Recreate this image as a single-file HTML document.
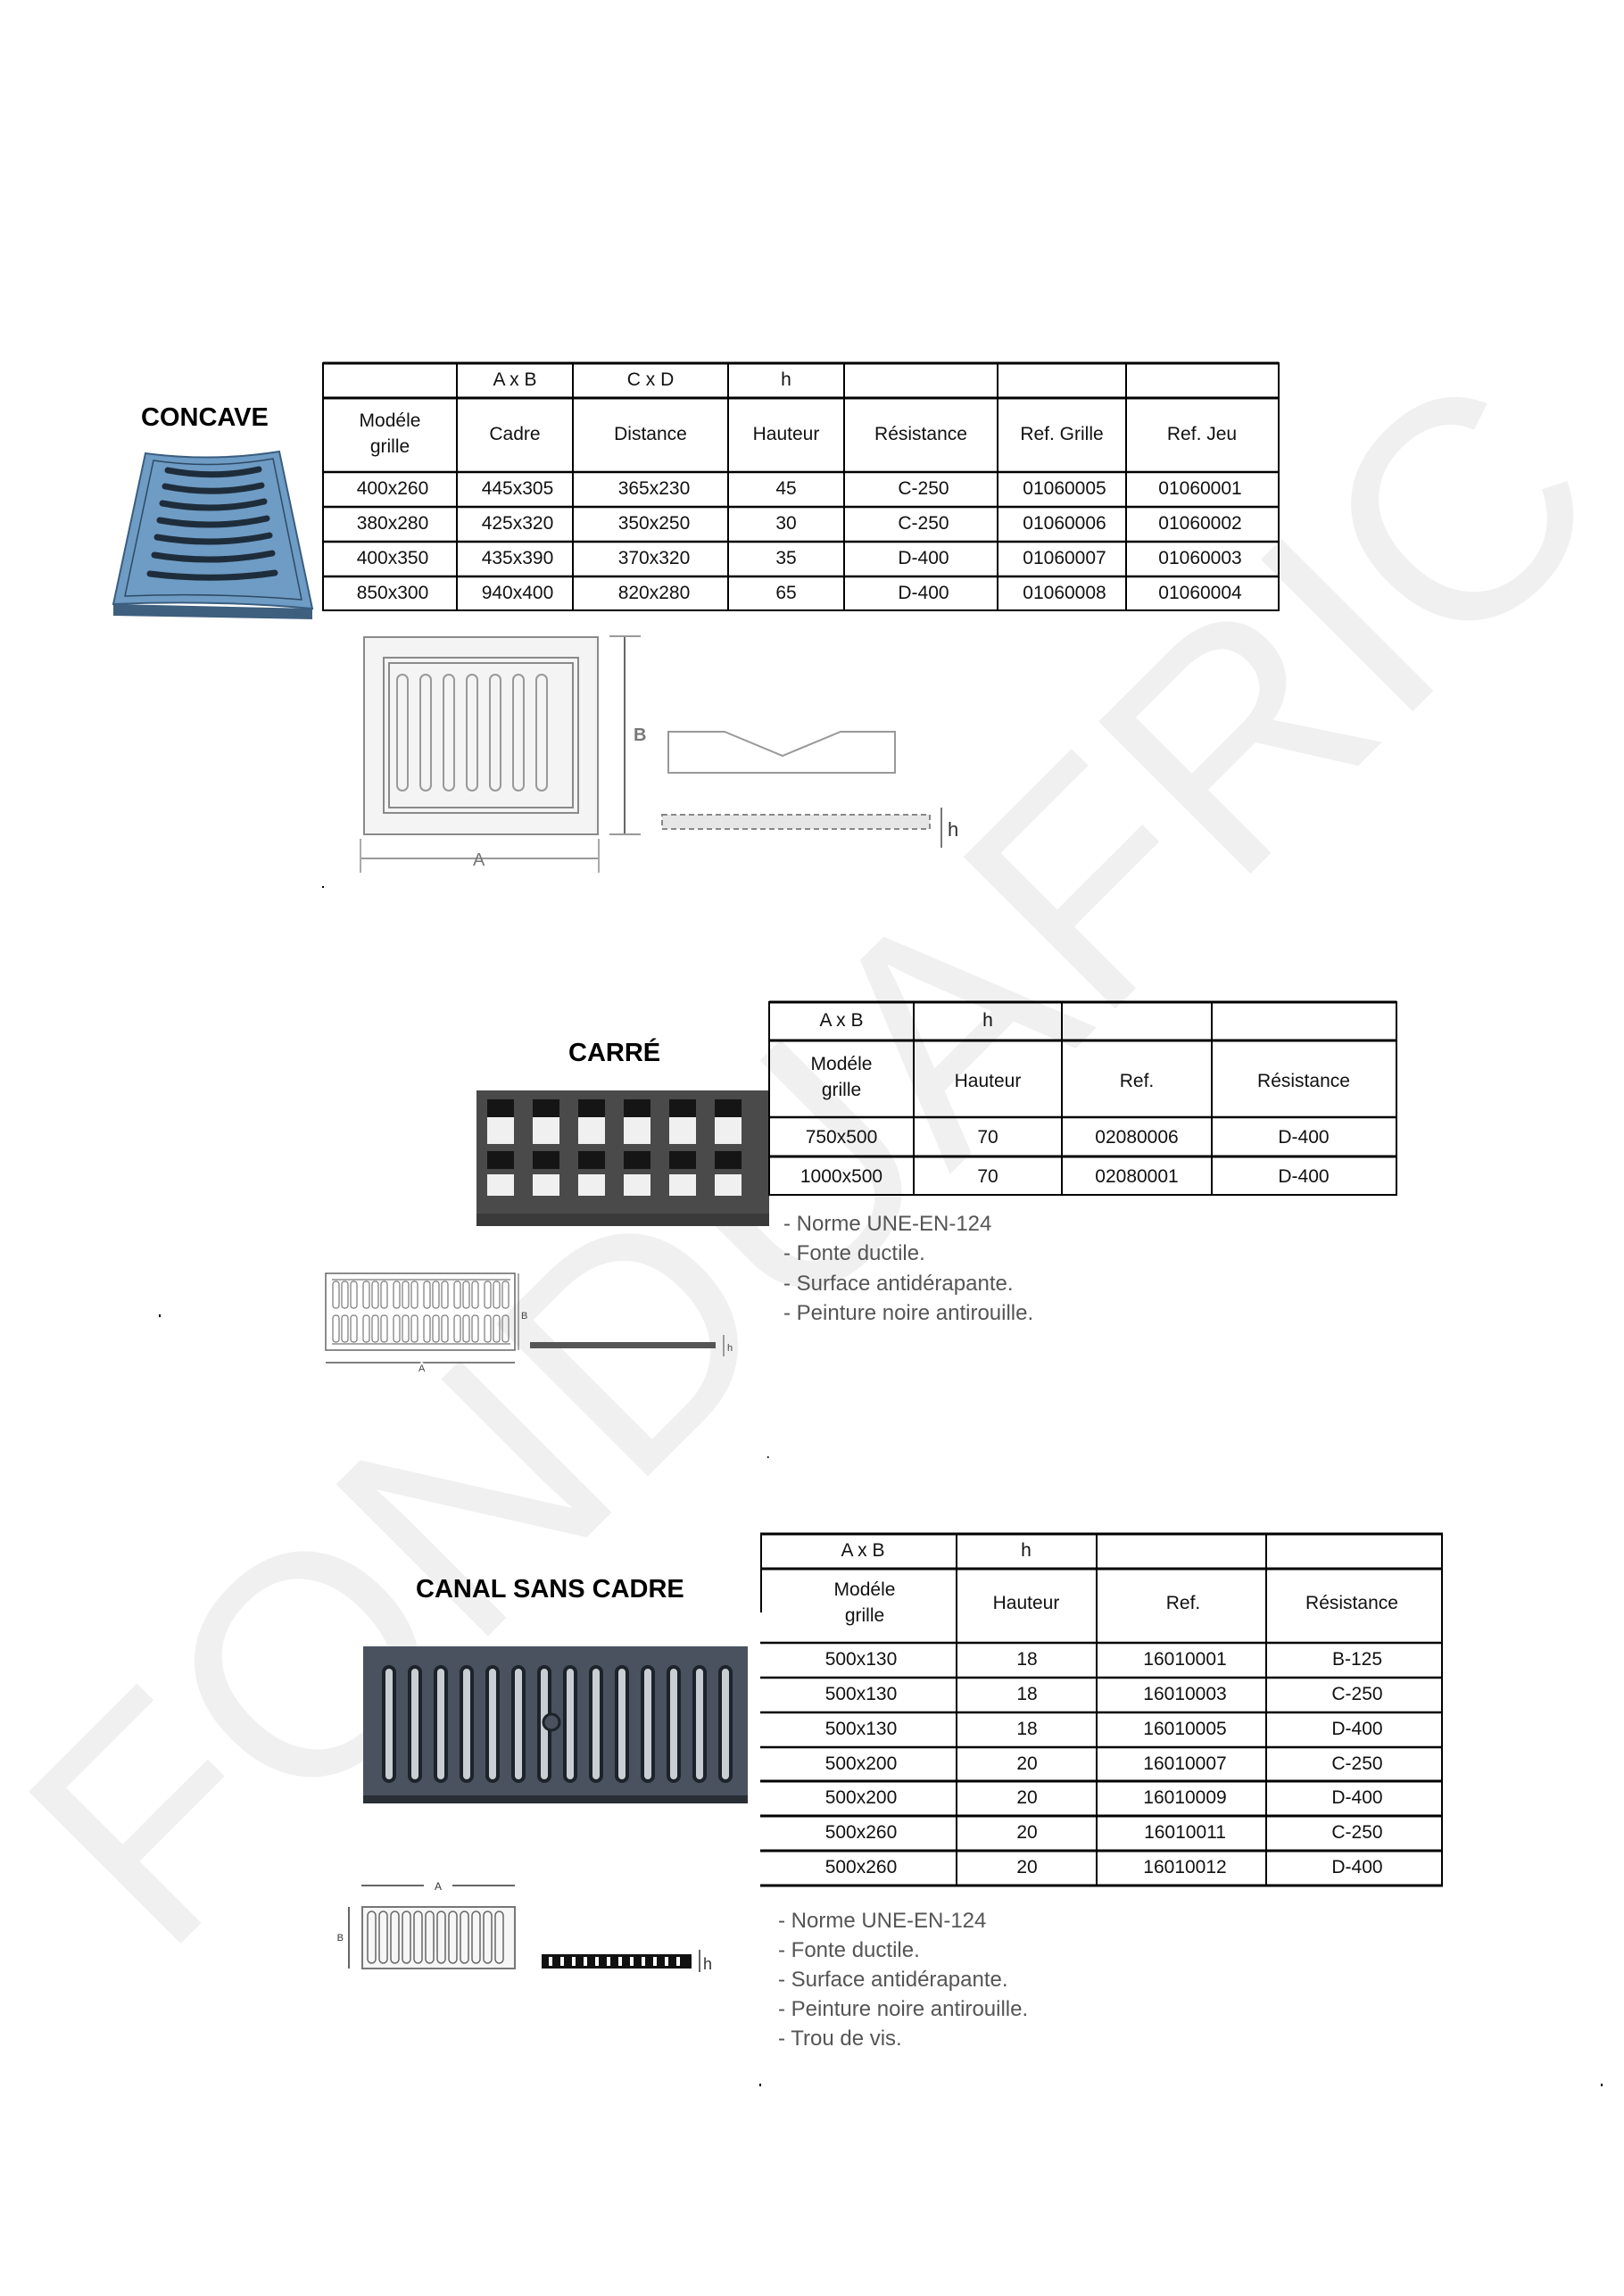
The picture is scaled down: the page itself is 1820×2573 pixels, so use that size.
<!DOCTYPE html>
<html><head><meta charset="utf-8"><style>
html,body{margin:0;padding:0;background:#fff;}
svg{display:block;}
text{font-family:"Liberation Sans",Arial,sans-serif;}
</style></head><body>
<svg width="1820" height="2573" viewBox="0 0 1820 2573" xmlns="http://www.w3.org/2000/svg">
<rect width="1820" height="2573" fill="#fff"/>
<!-- watermark -->
<text x="910" y="1300" font-size="350" fill="#f0f0f0" text-anchor="middle" dominant-baseline="central" textLength="2300" lengthAdjust="spacingAndGlyphs" transform="rotate(-45 910 1300)">FONDUAFRIC</text>

<!-- ===== CONCAVE ===== -->
<text x="158" y="477" font-size="29" font-weight="bold" fill="#000">CONCAVE</text>
<g>
<polygon points="127,677 350,682 350,694 127,690" fill="#3e5f7e"/>
<path d="M163,508 Q238,518 313,506 L350,682 Q238,672 127,677 Z" fill="#6f9cc4" stroke="#3a5d80" stroke-width="2"/>
<path d="M172,516 Q238,526 306,514 L338,672 Q238,664 140,668 Z" fill="none" stroke="#2d4a66" stroke-width="1.5"/>
<g stroke="#1e2d3c" stroke-width="7" stroke-linecap="round" fill="none">
<path d="M188,527 Q240,537 290,526"/>
<path d="M185,545 Q240,556 293,544"/>
<path d="M182,564 Q240,575 296,562"/>
<path d="M179,583 Q240,594 299,581"/>
<path d="M176,602 Q240,613 302,600"/>
<path d="M173,622 Q240,633 305,620"/>
<path d="M168,643 Q240,652 308,642"/>
</g>
</g>
<!-- table 1 -->
<g stroke="#000" fill="none">
<rect x="362" y="407" width="1071" height="277" stroke-width="2"/>
<line x1="362" y1="407" x2="1433" y2="407" stroke-width="3"/>
<line x1="362" y1="446" x2="1433" y2="446" stroke-width="3"/>
<line x1="362" y1="529" x2="1433" y2="529" stroke-width="2.5"/>
<line x1="362" y1="568" x2="1433" y2="568" stroke-width="2.5"/>
<line x1="362" y1="607" x2="1433" y2="607" stroke-width="2.5"/>
<line x1="362" y1="646" x2="1433" y2="646" stroke-width="2.5"/>
<line x1="512" y1="407" x2="512" y2="684" stroke-width="2"/>
<line x1="642" y1="407" x2="642" y2="684" stroke-width="2"/>
<line x1="816" y1="407" x2="816" y2="684" stroke-width="2"/>
<line x1="946" y1="407" x2="946" y2="684" stroke-width="2"/>
<line x1="1118" y1="407" x2="1118" y2="684" stroke-width="2"/>
<line x1="1262" y1="407" x2="1262" y2="684" stroke-width="2"/>
</g>
<g font-size="21" fill="#111" text-anchor="middle">
<text x="577" y="432">A x B</text><text x="729" y="432">C x D</text><text x="881" y="432">h</text>
<text x="437" y="478">Modéle</text><text x="437" y="507">grille</text>
<text x="577" y="493">Cadre</text><text x="729" y="493">Distance</text><text x="881" y="493">Hauteur</text>
<text x="1032" y="493">Résistance</text><text x="1190" y="493">Ref. Grille</text><text x="1347" y="493">Ref. Jeu</text>
<text x="440" y="554">400x260</text><text x="580" y="554">445x305</text><text x="733" y="554">365x230</text><text x="881" y="554">45</text><text x="1035" y="554">C-250</text><text x="1193" y="554">01060005</text><text x="1345" y="554">01060001</text>
<text x="440" y="593">380x280</text><text x="580" y="593">425x320</text><text x="733" y="593">350x250</text><text x="881" y="593">30</text><text x="1035" y="593">C-250</text><text x="1193" y="593">01060006</text><text x="1345" y="593">01060002</text>
<text x="440" y="632">400x350</text><text x="580" y="632">435x390</text><text x="733" y="632">370x320</text><text x="881" y="632">35</text><text x="1035" y="632">D-400</text><text x="1193" y="632">01060007</text><text x="1345" y="632">01060003</text>
<text x="440" y="671">850x300</text><text x="580" y="671">940x400</text><text x="733" y="671">820x280</text><text x="881" y="671">65</text><text x="1035" y="671">D-400</text><text x="1193" y="671">01060008</text><text x="1345" y="671">01060004</text>
</g>
<!-- drawing 1 -->
<g stroke="#8a8a8a" fill="none" stroke-width="2">
<rect x="408" y="714" width="262" height="221" fill="#f4f4f4"/>
<rect x="430" y="737" width="218" height="174"/>
<rect x="436" y="743" width="206" height="162"/>
<g stroke="#999" stroke-width="2">
<rect x="445" y="756" width="12" height="130" rx="6"/><rect x="471" y="756" width="12" height="130" rx="6"/>
<rect x="497" y="756" width="12" height="130" rx="6"/><rect x="523" y="756" width="12" height="130" rx="6"/>
<rect x="549" y="756" width="12" height="130" rx="6"/><rect x="575" y="756" width="12" height="130" rx="6"/>
<rect x="601" y="756" width="12" height="130" rx="6"/>
</g>
<line x1="700" y1="713" x2="700" y2="935" stroke="#666"/>
<line x1="683" y1="713" x2="718" y2="713" stroke="#999"/>
<line x1="683" y1="935" x2="718" y2="935" stroke="#999"/>
<line x1="404" y1="962" x2="671" y2="962" stroke="#999"/>
<line x1="404" y1="940" x2="404" y2="978" stroke="#aaa"/><line x1="671" y1="940" x2="671" y2="978" stroke="#aaa"/>
<path d="M749,820 L812,820 L877,847 L942,820 L1003,820 L1003,866 L749,866 Z" stroke="#999"/>
<rect x="742" y="913" width="300" height="16" fill="#e6e6e6" stroke="#888" stroke-dasharray="6,4"/>
<line x1="1055" y1="905" x2="1055" y2="950" stroke="#777"/>
</g>
<text x="710" y="830" font-size="20" fill="#777" font-weight="bold">B</text>
<text x="530" y="970" font-size="20" fill="#777">A</text>
<text x="1062" y="937" font-size="22" fill="#333">h</text>
<rect x="361" y="993" width="2" height="2" fill="#000"/>

<!-- ===== CARRÉ ===== -->
<text x="637" y="1189" font-size="29" font-weight="bold" fill="#000">CARRÉ</text>
<g>
<rect x="534" y="1222" width="328" height="152" fill="#4a4a4a"/>
<rect x="534" y="1360" width="328" height="14" fill="#3a3a3a"/>
<g fill="#151515">
<rect x="546" y="1232" width="30" height="20"/><rect x="597" y="1232" width="30" height="20"/><rect x="648" y="1232" width="30" height="20"/><rect x="699" y="1232" width="30" height="20"/><rect x="750" y="1232" width="30" height="20"/><rect x="801" y="1232" width="30" height="20"/>
<rect x="546" y="1290" width="30" height="20"/><rect x="597" y="1290" width="30" height="20"/><rect x="648" y="1290" width="30" height="20"/><rect x="699" y="1290" width="30" height="20"/><rect x="750" y="1290" width="30" height="20"/><rect x="801" y="1290" width="30" height="20"/>
</g>
<g fill="#f0f0f0">
<rect x="546" y="1252" width="30" height="8"/><rect x="597" y="1252" width="30" height="8"/><rect x="648" y="1252" width="30" height="8"/><rect x="699" y="1252" width="30" height="8"/><rect x="750" y="1252" width="30" height="8"/><rect x="801" y="1252" width="30" height="8"/>
<rect x="546" y="1260" width="30" height="22"/><rect x="597" y="1260" width="30" height="22"/><rect x="648" y="1260" width="30" height="22"/><rect x="699" y="1260" width="30" height="22"/><rect x="750" y="1260" width="30" height="22"/><rect x="801" y="1260" width="30" height="22"/>
<rect x="546" y="1316" width="30" height="24"/><rect x="597" y="1316" width="30" height="24"/><rect x="648" y="1316" width="30" height="24"/><rect x="699" y="1316" width="30" height="24"/><rect x="750" y="1316" width="30" height="24"/><rect x="801" y="1316" width="30" height="24"/>
</g>
</g>
<g stroke="#000" fill="none">
<rect x="862" y="1123" width="703" height="216" stroke-width="2"/>
<line x1="862" y1="1123" x2="1565" y2="1123" stroke-width="3"/>
<line x1="862" y1="1166" x2="1565" y2="1166" stroke-width="3"/>
<line x1="862" y1="1252" x2="1565" y2="1252" stroke-width="2.5"/>
<line x1="862" y1="1296" x2="1565" y2="1296" stroke-width="3"/>
<line x1="1024" y1="1123" x2="1024" y2="1339" stroke-width="2"/>
<line x1="1190" y1="1123" x2="1190" y2="1339" stroke-width="2"/>
<line x1="1358" y1="1123" x2="1358" y2="1339" stroke-width="2"/>
</g>
<g font-size="21" fill="#111" text-anchor="middle">
<text x="943" y="1150">A x B</text><text x="1107" y="1150">h</text>
<text x="943" y="1199">Modéle</text><text x="943" y="1228">grille</text>
<text x="1107" y="1218">Hauteur</text><text x="1274" y="1218">Ref.</text><text x="1461" y="1218">Résistance</text>
<text x="943" y="1281">750x500</text><text x="1107" y="1281">70</text><text x="1274" y="1281">02080006</text><text x="1461" y="1281">D-400</text>
<text x="943" y="1325">1000x500</text><text x="1107" y="1325">70</text><text x="1274" y="1325">02080001</text><text x="1461" y="1325">D-400</text>
</g>
<g font-size="24" fill="#555">
<text x="878" y="1389" dy="-10">- Norme UNE-EN-124</text>
<text x="878" y="1412">- Fonte ductile.</text>
<text x="878" y="1446">- Surface antidérapante.</text>
<text x="878" y="1479">- Peinture noire antirouille.</text>
</g>
<!-- drawing 2 -->
<g stroke="#666" fill="none" stroke-width="1.5">
<rect x="365" y="1427" width="212" height="86"/>
<g stroke="#777" stroke-width="1.3">
<path d="M372,1434 h200 M372,1506 h200"/>
</g>
</g>
<g fill="none" stroke="#777" stroke-width="1.2">
<g id="slots">
<rect x="373" y="1436" width="7" height="30" rx="3"/><rect x="383" y="1436" width="7" height="30" rx="3"/><rect x="393" y="1436" width="7" height="30" rx="3"/>
<rect x="407" y="1436" width="7" height="30" rx="3"/><rect x="417" y="1436" width="7" height="30" rx="3"/><rect x="427" y="1436" width="7" height="30" rx="3"/>
<rect x="441" y="1436" width="7" height="30" rx="3"/><rect x="451" y="1436" width="7" height="30" rx="3"/><rect x="461" y="1436" width="7" height="30" rx="3"/>
<rect x="475" y="1436" width="7" height="30" rx="3"/><rect x="485" y="1436" width="7" height="30" rx="3"/><rect x="495" y="1436" width="7" height="30" rx="3"/>
<rect x="509" y="1436" width="7" height="30" rx="3"/><rect x="519" y="1436" width="7" height="30" rx="3"/><rect x="529" y="1436" width="7" height="30" rx="3"/>
<rect x="543" y="1436" width="7" height="30" rx="3"/><rect x="553" y="1436" width="7" height="30" rx="3"/><rect x="563" y="1436" width="7" height="30" rx="3"/>
</g>
<use href="#slots" y="38"/>
</g>
<line x1="581" y1="1427" x2="581" y2="1513" stroke="#555"/>
<text x="584" y="1478" font-size="11" fill="#444">B</text>
<line x1="365" y1="1527" x2="577" y2="1527" stroke="#555" stroke-width="1.5"/>
<text x="469" y="1537" font-size="11" fill="#444" stroke="#fff" stroke-width="4" paint-order="stroke">A</text>
<rect x="594" y="1504" width="208" height="7" fill="#555"/>
<line x1="811" y1="1496" x2="811" y2="1520" stroke="#444"/>
<text x="815" y="1514" font-size="11" fill="#444">h</text>
<rect x="178" y="1473" width="2" height="3" fill="#000"/>
<rect x="860" y="1632" width="1.5" height="2" fill="#000"/>

<!-- ===== CANAL SANS CADRE ===== -->
<text x="466" y="1790" font-size="29" font-weight="bold" fill="#000">CANAL SANS CADRE</text>
<g>
<rect x="407" y="1845" width="431" height="176" fill="#49525e"/>
<rect x="407" y="2012" width="431" height="9" fill="#2a2f36"/>
<g fill="#c9ced4" stroke="#1d232a" stroke-width="4">
<rect x="430" y="1868" width="12" height="128" rx="6"/><rect x="459" y="1868" width="12" height="128" rx="6"/><rect x="488" y="1868" width="12" height="128" rx="6"/>
<rect x="517" y="1868" width="12" height="128" rx="6"/><rect x="546" y="1868" width="12" height="128" rx="6"/><rect x="575" y="1868" width="12" height="128" rx="6"/>
<rect x="604" y="1868" width="12" height="128" rx="6"/><rect x="633" y="1868" width="12" height="128" rx="6"/><rect x="662" y="1868" width="12" height="128" rx="6"/>
<rect x="691" y="1868" width="12" height="128" rx="6"/><rect x="720" y="1868" width="12" height="128" rx="6"/><rect x="749" y="1868" width="12" height="128" rx="6"/>
<rect x="778" y="1868" width="12" height="128" rx="6"/><rect x="807" y="1868" width="12" height="128" rx="6"/>
</g>
<circle cx="618" cy="1930" r="9" fill="#49525e" stroke="#1d232a" stroke-width="3"/>
</g>
<g stroke="#000" fill="none">
<line x1="852" y1="1719" x2="1617" y2="1719" stroke-width="3"/>
<line x1="852" y1="1758" x2="1617" y2="1758" stroke-width="3"/>
<line x1="852" y1="1841" x2="1617" y2="1841" stroke-width="2.5"/>
<line x1="852" y1="1880" x2="1617" y2="1880" stroke-width="2.5"/>
<line x1="852" y1="1919" x2="1617" y2="1919" stroke-width="2.5"/>
<line x1="852" y1="1958" x2="1617" y2="1958" stroke-width="2.5"/>
<line x1="852" y1="1996" x2="1617" y2="1996" stroke-width="3"/>
<line x1="852" y1="2035" x2="1617" y2="2035" stroke-width="3"/>
<line x1="852" y1="2074" x2="1617" y2="2074" stroke-width="3"/>
<line x1="852" y1="2113" x2="1617" y2="2113" stroke-width="3"/>
<line x1="853" y1="1719" x2="853" y2="1807" stroke-width="2"/>
<line x1="1072" y1="1719" x2="1072" y2="2113" stroke-width="2"/>
<line x1="1229" y1="1719" x2="1229" y2="2113" stroke-width="2"/>
<line x1="1419" y1="1719" x2="1419" y2="2113" stroke-width="2"/>
<line x1="1616" y1="1719" x2="1616" y2="2113" stroke-width="2"/>
</g>
<g font-size="21" fill="#111" text-anchor="middle">
<text x="967" y="1744">A x B</text><text x="1150" y="1744">h</text>
<text x="969" y="1788">Modéle</text><text x="969" y="1817">grille</text>
<text x="1150" y="1803">Hauteur</text><text x="1326" y="1803">Ref.</text><text x="1515" y="1803">Résistance</text>
<text x="965" y="1866">500x130</text><text x="1151" y="1866">18</text><text x="1328" y="1866">16010001</text><text x="1521" y="1866">B-125</text>
<text x="965" y="1905">500x130</text><text x="1151" y="1905">18</text><text x="1328" y="1905">16010003</text><text x="1521" y="1905">C-250</text>
<text x="965" y="1944">500x130</text><text x="1151" y="1944">18</text><text x="1328" y="1944">16010005</text><text x="1521" y="1944">D-400</text>
<text x="965" y="1983">500x200</text><text x="1151" y="1983">20</text><text x="1328" y="1983">16010007</text><text x="1521" y="1983">C-250</text>
<text x="965" y="2021">500x200</text><text x="1151" y="2021">20</text><text x="1328" y="2021">16010009</text><text x="1521" y="2021">D-400</text>
<text x="965" y="2060">500x260</text><text x="1151" y="2060">20</text><text x="1328" y="2060">16010011</text><text x="1521" y="2060">C-250</text>
<text x="965" y="2099">500x260</text><text x="1151" y="2099">20</text><text x="1328" y="2099">16010012</text><text x="1521" y="2099">D-400</text>
</g>
<g font-size="24" fill="#555">
<text x="872" y="2160">- Norme UNE-EN-124</text>
<text x="872" y="2193">- Fonte ductile.</text>
<text x="872" y="2226">- Surface antidérapante.</text>
<text x="872" y="2259">- Peinture noire antirouille.</text>
<text x="872" y="2292">- Trou de vis.</text>
</g>
<!-- drawing 3 -->
<line x1="405" y1="2113" x2="475" y2="2113" stroke="#333" stroke-width="1.5"/>
<line x1="507" y1="2113" x2="577" y2="2113" stroke="#333" stroke-width="1.5"/>
<text x="491" y="2118" font-size="12" fill="#333" text-anchor="middle">A</text>
<line x1="391" y1="2137" x2="391" y2="2206" stroke="#333" stroke-width="1.5"/>
<text x="385" y="2175" font-size="11" fill="#333" text-anchor="end">B</text>
<rect x="406" y="2137" width="171" height="69" fill="#f6f6f6" stroke="#777" stroke-width="2"/>
<g fill="none" stroke="#666" stroke-width="1.5">
<rect x="412" y="2142" width="9" height="58" rx="4.5"/><rect x="425" y="2142" width="9" height="58" rx="4.5"/><rect x="438" y="2142" width="9" height="58" rx="4.5"/>
<rect x="451" y="2142" width="9" height="58" rx="4.5"/><rect x="464" y="2142" width="9" height="58" rx="4.5"/><rect x="477" y="2142" width="9" height="58" rx="4.5"/>
<rect x="490" y="2142" width="9" height="58" rx="4.5"/><rect x="503" y="2142" width="9" height="58" rx="4.5"/><rect x="516" y="2142" width="9" height="58" rx="4.5"/>
<rect x="529" y="2142" width="9" height="58" rx="4.5"/><rect x="542" y="2142" width="9" height="58" rx="4.5"/><rect x="555" y="2142" width="9" height="58" rx="4.5"/>
</g>
<rect x="607" y="2190" width="168" height="16" fill="#111"/>
<g stroke="#fff" stroke-width="4">
<line x1="617" y1="2193" x2="617" y2="2203"/><line x1="630" y1="2193" x2="630" y2="2203"/><line x1="643" y1="2193" x2="643" y2="2203"/>
<line x1="656" y1="2193" x2="656" y2="2203"/><line x1="669" y1="2193" x2="669" y2="2203"/><line x1="682" y1="2193" x2="682" y2="2203"/>
<line x1="695" y1="2193" x2="695" y2="2203"/><line x1="708" y1="2193" x2="708" y2="2203"/><line x1="721" y1="2193" x2="721" y2="2203"/>
<line x1="734" y1="2193" x2="734" y2="2203"/><line x1="747" y1="2193" x2="747" y2="2203"/><line x1="760" y1="2193" x2="760" y2="2203"/>
</g>
<line x1="784" y1="2185" x2="784" y2="2210" stroke="#333" stroke-width="1.5"/>
<text x="788" y="2207" font-size="18" fill="#333">h</text>
<rect x="851" y="2335" width="2" height="3" fill="#000"/>
<rect x="1794" y="2335" width="2" height="3" fill="#000"/>
</svg>
</body></html>
